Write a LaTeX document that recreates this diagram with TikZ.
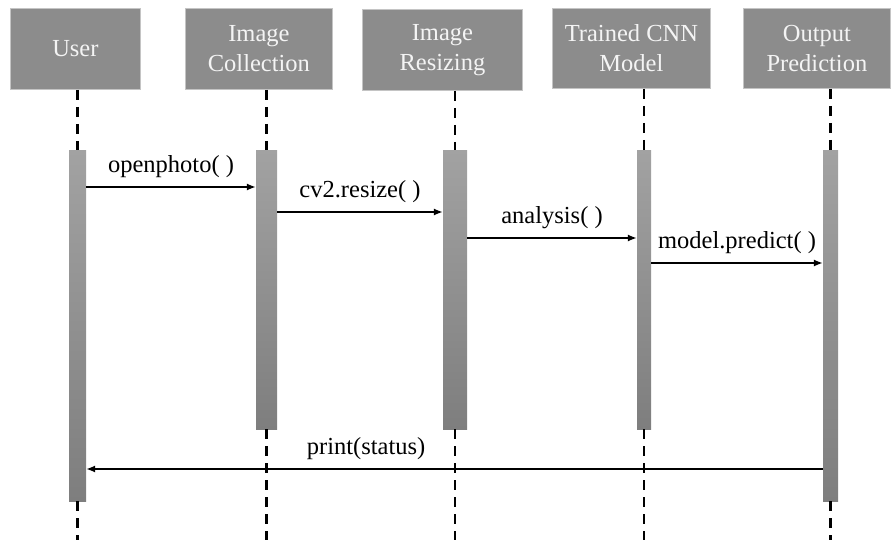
\documentclass[tikz,border=0pt]{standalone}
\usepackage{fontspec}
\newfontfamily\tnr{LiberationSerif}[Extension=.ttf,UprightFont=*-Regular]
\usetikzlibrary{arrows.meta}

\definecolor{headgray}{HTML}{8C8C8C}
\definecolor{headedge}{HTML}{C4C4C4}
\definecolor{headtext}{HTML}{F4F4F4}
\definecolor{bartop}{HTML}{A2A2A2}
\definecolor{barbot}{HTML}{7E7E7E}

\begin{document}
\begin{tikzpicture}[x=1pt,y=-1pt,
    head/.style={fill=headgray,draw=headedge,line width=0.8pt,text=headtext,
        align=center,inner sep=0pt,anchor=north west,
        font=\tnr\fontsize{24.5}{30}\selectfont},
    bar/.style={top color=bartop,bottom color=barbot,draw=none,
        inner sep=0pt,anchor=north},
    life/.style={line width=2.5pt,dash pattern=on 10pt off 7pt},
    msg/.style={line width=1.4pt,-{Latex[length=9pt,width=7pt]}},
    lbl/.style={above=5pt,midway,font=\tnr\fontsize{24.5}{29}\selectfont}]

\useasboundingbox (0,0) rectangle (891,540);

% Objects
\node[head,minimum width=130pt,minimum height=81pt] (user) at (10,8) {User};
\node[head,minimum width=147pt,minimum height=81pt] (collect) at (185,8) {Image\\Collection};
\node[head,minimum width=160pt,minimum height=81pt] (resize) at (362,9) {Image\\Resizing};
\node[head,minimum width=158pt,minimum height=80pt] (cnn) at (552,8) {Trained CNN\\Model};
\node[head,minimum width=147pt,minimum height=80pt] (output) at (743,8) {Output\\Prediction};

% Activation bars
\node[bar,minimum width=17pt,minimum height=351pt] (userbar) at (77.5,150) {};
\node[bar,minimum width=21pt,minimum height=279pt] (collbar) at (266.5,150) {};
\node[bar,minimum width=24pt,minimum height=279pt] (resbar) at (455,150) {};
\node[bar,minimum width=14pt,minimum height=279pt] (cnnbar) at (644,150) {};
\node[bar,minimum width=15pt,minimum height=351pt] (outbar) at (830.5,150) {};

% Lifelines
\foreach \h/\b in {user/userbar,collect/collbar,resize/resbar,cnn/cnnbar,output/outbar}
{
    \draw[life] (\b.north |- \h.south) -- (\b.north);
    \draw[life] (\b.south) -- (\b.south |- 0,540);
}

% Messages
\draw[msg] (userbar.east |- 0,187) -- node[lbl]{openphoto( )} (collbar.west |- 0,187);
\draw[msg] (collbar.east |- 0,212) -- node[lbl]{cv2.resize( )} (resbar.west |- 0,212);
\draw[msg] (resbar.east |- 0,238) -- node[lbl]{analysis( )} (cnnbar.west |- 0,238);
\draw[msg] (cnnbar.east |- 0,263) -- node[lbl]{model.predict( )} (outbar.west |- 0,263);

% Reply
\draw[msg] (outbar.west |- 0,469) -- node[lbl,pos=0.62]{print(status)} (userbar.east |- 0,469);

\end{tikzpicture}
\end{document}
